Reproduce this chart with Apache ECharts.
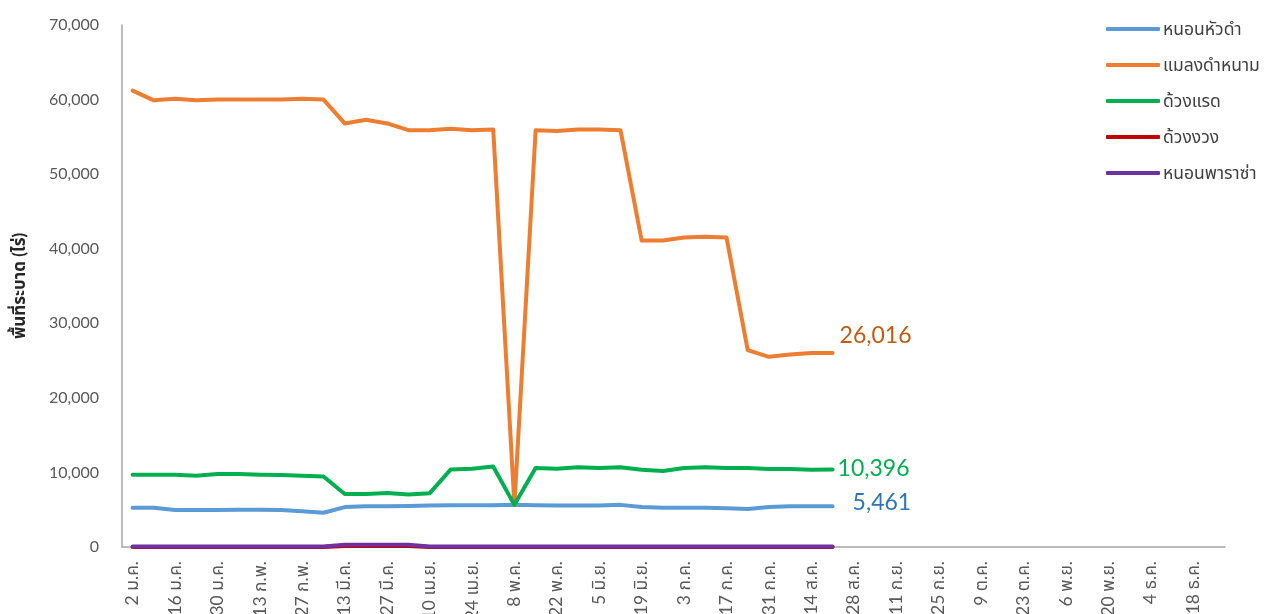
<!DOCTYPE html>
<html>
<head>
<meta charset="utf-8">
<script src="https://cdn.jsdelivr.net/npm/echarts@6/dist/echarts.min.js"></script>
<style>
  html, body { margin: 0; padding: 0; background: #fff; }
  #chart { width: 1264px; height: 614px; }
</style>
</head>
<body>
<div id="chart"></div>
<script>
const weeks = [
  '2 ม.ค.', '9 ม.ค.', '16 ม.ค.', '23 ม.ค.', '30 ม.ค.', '6 ก.พ.', '13 ก.พ.', '20 ก.พ.', '27 ก.พ.',
  '6 มี.ค.', '13 มี.ค.', '20 มี.ค.', '27 มี.ค.', '3 เม.ย.', '10 เม.ย.', '17 เม.ย.', '24 เม.ย.',
  '1 พ.ค.', '8 พ.ค.', '15 พ.ค.', '22 พ.ค.', '29 พ.ค.', '5 มิ.ย.', '12 มิ.ย.', '19 มิ.ย.', '26 มิ.ย.',
  '3 ก.ค.', '10 ก.ค.', '17 ก.ค.', '24 ก.ค.', '31 ก.ค.', '7 ส.ค.', '14 ส.ค.', '21 ส.ค.', '28 ส.ค.',
  '4 ก.ย.', '11 ก.ย.', '18 ก.ย.', '25 ก.ย.', '2 ต.ค.', '9 ต.ค.', '16 ต.ค.', '23 ต.ค.', '30 ต.ค.',
  '6 พ.ย.', '13 พ.ย.', '20 พ.ย.', '27 พ.ย.', '4 ธ.ค.', '11 ธ.ค.', '18 ธ.ค.', '25 ธ.ค.'
];

const blackHeadCaterpillar = [
  5250, 5250, 4950, 4950, 4950, 5000, 5000, 4950, 4800, 4600,
  5350, 5450, 5450, 5500, 5550, 5600, 5600, 5600, 5650, 5600,
  5550, 5550, 5550, 5650, 5350, 5250, 5250, 5250, 5200, 5100,
  5350, 5450, 5450, 5461
];
const coconutHispine = [
  61200, 59900, 60100, 59900, 60000, 60000, 60000, 60000, 60100, 60000,
  56800, 57300, 56800, 55900, 55900, 56100, 55900, 56000, 5650, 55900,
  55800, 56000, 56000, 55900, 41100, 41100, 41500, 41600, 41500, 26400,
  25500, 25800, 26000, 26016
];
const rhinoBeetle = [
  9700, 9700, 9700, 9550, 9800, 9800, 9700, 9650, 9550, 9450,
  7100, 7100, 7250, 7050, 7200, 10400, 10500, 10800, 5650, 10600,
  10500, 10700, 10600, 10700, 10350, 10200, 10600, 10700, 10600, 10600,
  10450, 10450, 10350, 10396
];
const redPalmWeevil = [
  0, 0, 0, 0, 0, 0, 0, 0, 0, 0,
  120, 120, 120, 120, 0, 0, 0, 0, 0, 0,
  0, 0, 0, 0, 0, 0, 0, 0, 0, 0,
  0, 0, 0, 0
];
const parasaCaterpillar = [
  60, 60, 60, 60, 60, 60, 60, 60, 60, 60,
  300, 300, 300, 300, 60, 60, 60, 60, 60, 60,
  60, 60, 60, 60, 60, 60, 60, 60, 60, 60,
  60, 60, 60, 60
];

const seriesNames = ['หนอนหัวดำ', 'แมลงดำหนาม', 'ด้วงแรด', 'ด้วงงวง', 'หนอนพาราซ่า'];
const seriesColors = ['#5B9BD5', '#ED7D31', '#00B050', '#C00000', '#7030A0'];

const FONT = 'Lato, "Noto Sans Thai", "Noto Sans", sans-serif';

const chart = echarts.init(document.getElementById('chart'));

// endLabel = value at the last week with data
const lineSeries = (name, data, color, labelColor, labelOffset) => {
  const s = {
    name: name,
    type: 'line',
    data: data,
    symbol: 'none',
    color: color,
    lineStyle: { width: 4, color: color, cap: 'round', join: 'round' },
    emphasis: { disabled: true }
  };
  if (labelColor) {
    s.endLabel = {
      show: true,
      distance: 5,
      offset: labelOffset,
      color: labelColor,
      fontSize: 23,
      fontFamily: FONT,
      formatter: (p) => Number(p.value).toLocaleString('en-US')
    };
  }
  return s;
};

chart.setOption({
  animation: false,
  textStyle: { fontFamily: FONT },
  grid: { left: 122, right: 39, top: 25, bottom: 67, containLabel: false, outerBoundsMode: 'none' },
  legend: {
    orient: 'vertical',
    left: 1101,
    top: 15,
    itemWidth: 54,
    itemHeight: 4,
    itemGap: 18,
    icon: 'roundRect',
    textStyle: { fontSize: 17.5, color: '#404040', fontFamily: FONT, padding: [0, 0, 0, -2] },
    data: seriesNames
  },
  xAxis: {
    type: 'category',
    data: weeks,
    boundaryGap: true,
    axisLine: { lineStyle: { color: '#A6A6A6', width: 1.5 } },
    axisTick: { show: false },
    axisLabel: {
      interval: 1,
      rotate: 90,
      margin: 14,
      fontSize: 17.5,
      color: '#595959',
      fontFamily: FONT
    },
    splitLine: { show: false }
  },
  yAxis: {
    type: 'value',
    min: 0,
    max: 70000,
    interval: 10000,
    name: 'พื้นที่ระบาด (ไร่)',
    nameLocation: 'middle',
    nameGap: 94,
    nameRotate: 90,
    nameTextStyle: { fontSize: 17, fontWeight: 'bold', color: '#262626', fontFamily: FONT },
    axisLine: { show: true, lineStyle: { color: '#A6A6A6', width: 1.5 } },
    axisTick: { show: false },
    axisLabel: {
      margin: 23,
      fontSize: 16,
      color: '#595959',
      fontFamily: FONT,
      formatter: (v) => v.toLocaleString('en-US')
    },
    splitLine: { show: false }
  },
  series: [
    lineSeries(seriesNames[0], blackHeadCaterpillar, seriesColors[0], '#2E75B6', [15, -4]),
    lineSeries(seriesNames[1], coconutHispine, seriesColors[1], '#C55A11', [2, -17]),
    lineSeries(seriesNames[2], rhinoBeetle, seriesColors[2], '#00B050', [0, -1]),
    lineSeries(seriesNames[3], redPalmWeevil, seriesColors[3]),
    lineSeries(seriesNames[4], parasaCaterpillar, seriesColors[4])
  ]
});

window.addEventListener('resize', () => chart.resize());
</script>
</body>
</html>
